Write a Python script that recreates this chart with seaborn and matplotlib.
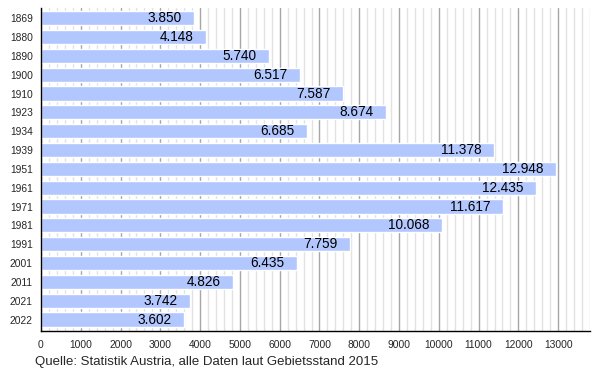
import matplotlib
matplotlib.use("Agg")
import matplotlib.pyplot as plt
from matplotlib.ticker import MultipleLocator
import pandas as pd
import seaborn as sns

# ----------------------
# Data
# ----------------------

years = ["1869", "1880", "1890", "1900", "1910", "1923", "1934", "1939", "1951",
         "1961", "1971", "1981", "1991", "2001", "2011", "2021", "2022"]
population = [3850, 4148, 5740, 6517, 7587, 8674, 6685, 11378, 12948,
              12435, 11617, 10068, 7759, 6435, 4826, 3742, 3602]
source_note = "Quelle: Statistik Austria, alle Daten laut Gebietsstand 2015"

BAR_COLOR = "#b3c7ff"

# ----------------------
# Plot
# ----------------------

sns.set_style("white")
plt.rcParams["font.family"] = ["Liberation Sans", "DejaVu Sans"]

df = pd.DataFrame({"year": years, "pop": population})

fig = plt.figure(figsize=(6, 3.7), dpi=100)
ax = fig.add_axes([41 / 600, 1 - 331 / 370, 549 / 600, 323 / 370])

sns.barplot(data=df, x="pop", y="year", orient="h", color=BAR_COLOR,
            width=0.76, saturation=1, ax=ax, zorder=2)

# value labels inside the bars, German thousands separator
for yr, v in zip(years, population):
    ax.annotate(f"{v:,}".replace(",", "."), xy=(v, yr), xytext=(-9, 0),
                textcoords="offset points", ha="right", va="center",
                fontsize=9.8, color="black", zorder=3)

ax.set_xlim(0, 13800)
ax.set_ylim(len(years) - 1 + 0.61, -0.54)
ax.xaxis.set_major_locator(MultipleLocator(1000))
ax.xaxis.set_minor_locator(MultipleLocator(200))
ax.grid(which="major", axis="x", color="#a6a6a6", linewidth=1, zorder=0)
ax.grid(which="minor", axis="x", color="#e2e2e2", linewidth=1, zorder=0)
ax.set_axisbelow(True)

for side in ["top", "right"]:
    ax.spines[side].set_visible(False)
for side in ["left", "bottom"]:
    ax.spines[side].set_color("black")
    ax.spines[side].set_linewidth(1)

ax.tick_params(axis="x", which="major", direction="inout", length=4.5, width=0.8,
               labelsize=7.4, pad=4, color="black")
ax.tick_params(axis="x", which="minor", direction="in", length=2.2, width=0.8,
               color="black")
ax.tick_params(axis="y", length=0, labelsize=7.4, pad=6)

ax.set_xlabel("")
ax.set_ylabel("")

fig.text(35 / 600, 5.5 / 370, source_note, fontsize=9.5, va="baseline", ha="left")

fig.savefig("out.png", dpi=100)
